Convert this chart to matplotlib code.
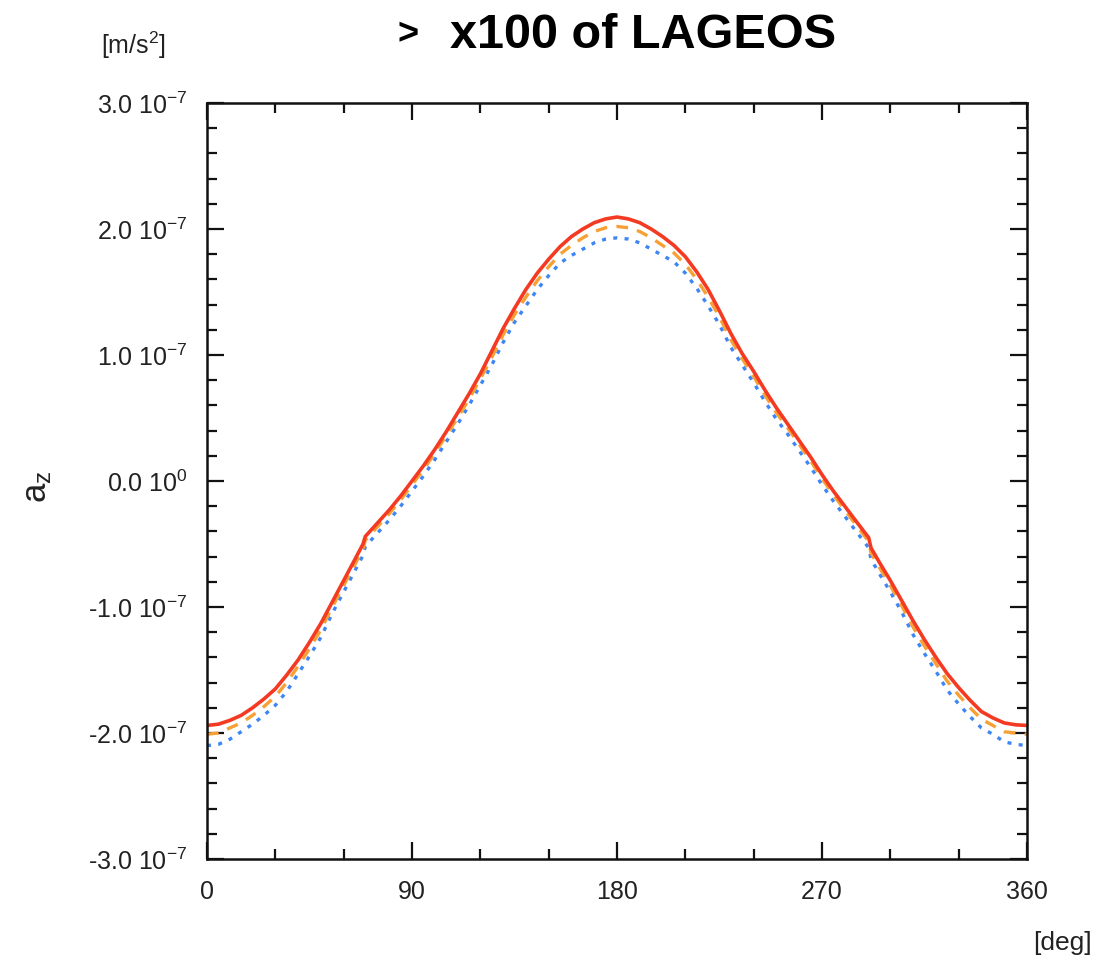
import numpy as np
import matplotlib.pyplot as plt
from matplotlib.ticker import MultipleLocator, FixedLocator

plt.rcParams['font.family'] = ['Liberation Sans', 'DejaVu Sans']
plt.rcParams['mathtext.fontset'] = 'custom'
plt.rcParams['mathtext.rm'] = 'Liberation Sans'
plt.rcParams['mathtext.it'] = 'Liberation Sans'

# angle [deg]
ang = [0, 5, 10, 15, 20, 25, 30, 35, 40, 45, 50, 55, 60, 65, 68.5, 69.5,
       75, 80, 85, 90, 95, 100, 105, 110, 115, 120, 125, 130, 135, 140,
       145, 150, 155, 160, 165, 170, 175, 180, 185, 190, 195, 200, 205,
       210, 215, 220, 225, 230, 235, 240, 245, 250, 255, 260, 265, 270,
       275, 280, 285, 290.5, 291.5, 295, 300, 305, 310, 315, 320, 325,
       330, 335, 340, 345, 350, 355, 360]

# a_z in units of 1e-7 m/s^2
red = [-1.94, -1.93, -1.90, -1.86, -1.80, -1.73, -1.65, -1.54, -1.42, -1.28,
       -1.13, -0.96, -0.79, -0.62, -0.50, -0.44,
       -0.33, -0.23, -0.12, 0.00, 0.12, 0.25, 0.39, 0.54, 0.69, 0.85,
       1.03, 1.21, 1.37, 1.52, 1.65, 1.76, 1.86, 1.94, 2.00, 2.05, 2.08,
       2.095, 2.08, 2.05, 2.00, 1.94, 1.87, 1.78, 1.66, 1.52, 1.35, 1.17,
       1.01, 0.87, 0.72, 0.58, 0.45, 0.32, 0.19, 0.05, -0.08, -0.20, -0.32,
       -0.45, -0.53, -0.64, -0.79, -0.95, -1.11, -1.26, -1.40, -1.53, -1.64,
       -1.74, -1.83, -1.88, -1.92, -1.935, -1.94]
orange = [-2.01, -2.00, -1.96, -1.92, -1.86, -1.79, -1.71, -1.60, -1.47, -1.33,
          -1.18, -1.00, -0.83, -0.66, -0.54, -0.47,
          -0.36, -0.26, -0.15, -0.03, 0.09, 0.22, 0.36, 0.50, 0.65, 0.81,
          0.98, 1.16, 1.32, 1.46, 1.59, 1.70, 1.80, 1.87, 1.93, 1.98, 2.01,
          2.02, 2.01, 1.98, 1.93, 1.87, 1.81, 1.72, 1.60, 1.46, 1.30, 1.12,
          0.97, 0.83, 0.68, 0.54, 0.42, 0.29, 0.16, 0.02, -0.11, -0.23, -0.35,
          -0.48, -0.57, -0.68, -0.83, -0.99, -1.16, -1.31, -1.45, -1.59, -1.70,
          -1.80, -1.89, -1.94, -1.99, -2.00, -2.01]
blue = [-2.10, -2.09, -2.05, -1.99, -1.93, -1.86, -1.78, -1.67, -1.53, -1.39,
        -1.24, -1.05, -0.88, -0.71, -0.59, -0.52,
        -0.41, -0.31, -0.20, -0.08, 0.04, 0.17, 0.31, 0.45, 0.60, 0.76,
        0.92, 1.10, 1.26, 1.39, 1.52, 1.63, 1.73, 1.79, 1.84, 1.89, 1.92,
        1.93, 1.92, 1.89, 1.84, 1.79, 1.74, 1.65, 1.53, 1.39, 1.24, 1.06,
        0.92, 0.78, 0.63, 0.49, 0.37, 0.24, 0.11, -0.03, -0.16, -0.28, -0.40,
        -0.53, -0.62, -0.73, -0.88, -1.04, -1.22, -1.37, -1.51, -1.66, -1.77,
        -1.87, -1.96, -2.01, -2.07, -2.09, -2.10]

yticks = [-3e-7, -2e-7, -1e-7, 0, 1e-7, 2e-7, 3e-7]
ylabels = ['-3.0 10$^{-7}$', '-2.0 10$^{-7}$', '-1.0 10$^{-7}$', '0.0 10$^{0}$',
           '1.0 10$^{-7}$', '2.0 10$^{-7}$', '3.0 10$^{-7}$']
xticks = [0, 90, 180, 270, 360]

W, H = 1113, 963
fig = plt.figure(figsize=(W / 100, H / 100), dpi=100)
ax = fig.add_axes([207 / W, 1 - 859 / H, (1027 - 207) / W, (859 - 103) / H])

x = np.array(ang)
ax.plot(x, np.array(blue) * 1e-7, color='#3f86f5', lw=2.4, ls=(0, (1.2, 2.2)))
ax.plot(x, np.array(orange) * 1e-7, color='#f7a035', lw=2.4, ls=(0, (3.5, 2.8)))
ax.plot(x, np.array(red) * 1e-7, color='#f43a22', lw=2.6)

ax.set_xlim(0, 360)
ax.set_ylim(-3e-7, 3e-7)
ax.xaxis.set_major_locator(FixedLocator(xticks))
ax.xaxis.set_minor_locator(MultipleLocator(30))
ax.yaxis.set_major_locator(FixedLocator(yticks))
ax.yaxis.set_minor_locator(MultipleLocator(0.2e-7))
ax.set_yticklabels(ylabels)
ax.set_xticklabels([str(v) for v in xticks])

ax.tick_params(which='both', direction='in', top=True, right=True,
               width=1.6, color='#111111', labelsize=18, labelcolor='#222222')
ax.tick_params(which='major', length=12)
ax.tick_params(which='minor', length=7)
ax.tick_params(axis='y', pad=14)
ax.tick_params(axis='x', pad=15)
for s in ax.spines.values():
    s.set_linewidth(1.8)
    s.set_color('#111111')

fig.text(408 / W, 1 - 35 / H, '>', fontsize=26, fontweight='bold',
         ha='center', va='center')
fig.text(450 / W, 1 - 35 / H, 'x100 of LAGEOS', fontsize=35,
         fontweight='bold', ha='left', va='center')
fig.text(134 / W, 1 - 45 / H, '[m/s$^2$]', fontsize=18, ha='center',
         va='center', color='#222222')
fig.text(1062 / W, 1 - 943 / H, '[deg]', fontsize=19, ha='center',
         va='center', color='#222222')
fig.text(38 / W, 1 - 487 / H, 'a$_z$', fontsize=25, rotation=90,
         ha='center', va='center', color='#222222')

fig.savefig('out.png', dpi=100)
